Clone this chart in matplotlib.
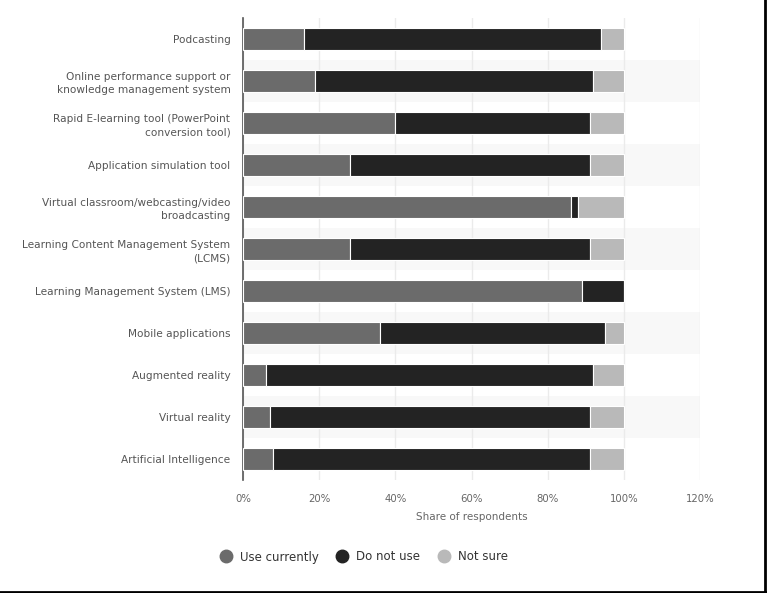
import matplotlib
matplotlib.use("Agg")
import matplotlib.pyplot as plt
from matplotlib.lines import Line2D
import numpy as np

categories = [
    "Podcasting",
    "Online performance support or\nknowledge management system",
    "Rapid E-learning tool (PowerPoint\nconversion tool)",
    "Application simulation tool",
    "Virtual classroom/webcasting/video\nbroadcasting",
    "Learning Content Management System\n(LCMS)",
    "Learning Management System (LMS)",
    "Mobile applications",
    "Augmented reality",
    "Virtual reality",
    "Artificial Intelligence",
]
use_currently = [16, 19, 40, 28, 86, 28, 89, 36, 6, 7, 8]
do_not_use = [78, 73, 51, 63, 2, 63, 11, 59, 86, 84, 83]
not_sure = [6, 8, 9, 9, 12, 9, 0, 5, 8, 9, 9]

series_names = ["Use currently", "Do not use", "Not sure"]
colors = ["#6b6b6b", "#232323", "#b9b9b9"]
xticks = [0, 20, 40, 60, 80, 100, 120]

plt.rcParams.update({"font.family": "DejaVu Sans"})

fig = plt.figure(figsize=(7.67, 5.93), dpi=100)
ax = fig.add_axes([243 / 767, 1 - 480 / 593, 457 / 767, 462 / 593])

y = np.arange(len(categories))
for i in range(1, len(categories), 2):
    ax.axhspan(i - 0.5, i + 0.5, color="#f8f8f8", zorder=0, lw=0)

left = np.zeros(len(categories))
for vals, name, col in zip([use_currently, do_not_use, not_sure], series_names, colors):
    ax.barh(y, vals, left=left, height=0.53, color=col, edgecolor="white",
            linewidth=0.8, label=name, zorder=3)
    left += np.array(vals)

ax.set_xlim(0, 120)
ax.set_ylim(len(categories) - 0.5, -0.5)
ax.set_yticks(y)
ax.set_yticklabels(categories, fontsize=7.6, color="#555555", linespacing=1.4)
ax.set_xticks(xticks)
ax.set_xticklabels([f"{t}%" for t in xticks], fontsize=7.3, color="#666666")
ax.tick_params(axis="both", length=0)
ax.tick_params(axis="y", pad=9)
ax.tick_params(axis="x", pad=10)
ax.set_xlabel("Share of respondents", fontsize=7.5, color="#666666", labelpad=6)

ax.xaxis.grid(True, color="#ebebeb", linewidth=1, zorder=1)
ax.set_axisbelow(True)
for s in ["top", "right", "bottom"]:
    ax.spines[s].set_visible(False)
ax.spines["left"].set_color("#555555")
ax.spines["left"].set_linewidth(1.2)

handles = [Line2D([0], [0], marker="o", color="none", markerfacecolor=c,
                  markeredgecolor=c, markersize=9) for c in colors]
fig.legend(handles, series_names, loc="center", bbox_to_anchor=(361 / 767, 1 - 557 / 593),
           ncol=3, frameon=False, fontsize=8.5, handletextpad=0.2, columnspacing=1.0,
           labelcolor="#333333")

# frame lines on right and bottom edges
fig.add_artist(Line2D([0, 1], [0.002, 0.002], transform=fig.transFigure, color="black", lw=2))
fig.add_artist(Line2D([0.998, 0.998], [0, 1], transform=fig.transFigure, color="black", lw=2))

fig.savefig("out.png", dpi=100)
